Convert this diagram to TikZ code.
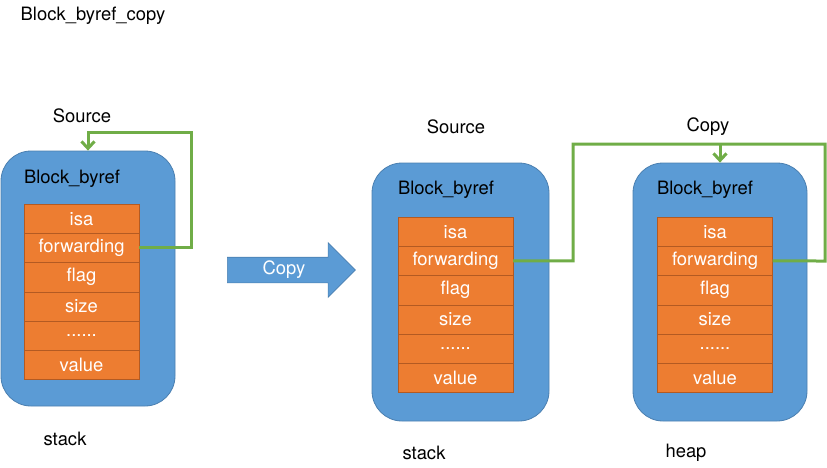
\documentclass[tikz,border=0pt]{standalone}
\usepackage{fontspec}
\setmainfont{TeX Gyre Heros}
\usetikzlibrary{positioning,arrows.meta,shapes.arrows}

\definecolor{boxblue}{HTML}{5B9BD5}
\definecolor{boxblueline}{HTML}{4A7FB0}
\definecolor{fieldorange}{HTML}{ED7D31}
\definecolor{fieldline}{HTML}{B35A22}
\definecolor{linkgreen}{HTML}{70AD47}

\tikzset{
  every node/.style={font=\fontsize{18.4}{21}\selectfont},
  outer/.style={draw=boxblueline, fill=boxblue, rounded corners=30pt, line width=0.8pt},
  field/.style={draw=fieldline, fill=fieldorange, text=white, line width=0.8pt,
    minimum width=115pt, minimum height=29.3pt, inner sep=0pt, outer sep=0pt},
  link/.style={draw=linkgreen, line width=3pt},
  linkarrow/.style={link, -{Straight Barb[length=7pt,width=13pt,line width=3pt]}}
}

\begin{document}
\begin{tikzpicture}[x=1pt,y=-1pt]
\useasboundingbox (0,0) rectangle (827,467);

\node (title) at (93,16) {Block\_byref\_copy};

% stack, before the copy
\node[outer, minimum width=174pt, minimum height=255pt] (srcA) at (88,278.5) {};
\node (srcAName) at (72,179) {Block\_byref};
\node[field, anchor=north] (aIsa) at (81.5,204) {isa};
\node[field, below=0pt of aIsa] (aFwd) {forwarding};
\node[field, below=0pt of aFwd] (aFlag) {flag};
\node[field, below=0pt of aFlag] (aSize) {size};
\node[field, below=0pt of aSize] (aDots) {......};
\node[field, below=0pt of aDots] (aValue) {value};
\node (srcALabel) at (82,116) {Source};
\node (stackA) at (65,439) {stack};
\draw[linkarrow] (aFwd.east) -| (191,132) -| (srcA.north);

% copy arrow
\node[single arrow, fill=boxblue, draw=boxblueline, line width=0.6pt, text=white,
  minimum height=128pt, minimum width=54pt, single arrow head extend=14.5pt,
  text height=12pt, text depth=4pt, inner ysep=4.5pt, inner xsep=0pt] (copyArrow) at (285,270) {};
\node[text=white] (copyText) at (284,270) {Copy};

% stack, after the copy
\node[outer, minimum width=177pt, minimum height=258pt] (srcB) at (460.5,292) {};
\node (srcBName) at (446,190) {Block\_byref};
\node[field, anchor=north] (bIsa) at (455.5,217) {isa};
\node[field, below=0pt of bIsa] (bFwd) {forwarding};
\node[field, below=0pt of bFwd] (bFlag) {flag};
\node[field, below=0pt of bFlag] (bSize) {size};
\node[field, below=0pt of bSize] (bDots) {......};
\node[field, below=0pt of bDots] (bValue) {value};
\node (srcBLabel) at (456,127) {Source};
\node (stackB) at (424,453) {stack};

% heap
\node[outer, minimum width=174pt, minimum height=258pt] (dstC) at (720,292) {};
\node (dstCName) at (705,190) {Block\_byref};
\node[field, anchor=north] (cIsa) at (715,217) {isa};
\node[field, below=0pt of cIsa] (cFwd) {forwarding};
\node[field, below=0pt of cFwd] (cFlag) {flag};
\node[field, below=0pt of cFlag] (cSize) {size};
\node[field, below=0pt of cSize] (cDots) {......};
\node[field, below=0pt of cDots] (cValue) {value};
\node (dstCLabel) at (708,127) {Copy};
\node (heapC) at (686,453) {heap};

\coordinate (cTop) at (dstC.north |- 0,144);
\draw[link] (bFwd.east) -| (573,144) -| (825,261) -- (cFwd.east);
\draw[linkarrow] (cTop) -- (dstC.north);
\end{tikzpicture}
\end{document}
